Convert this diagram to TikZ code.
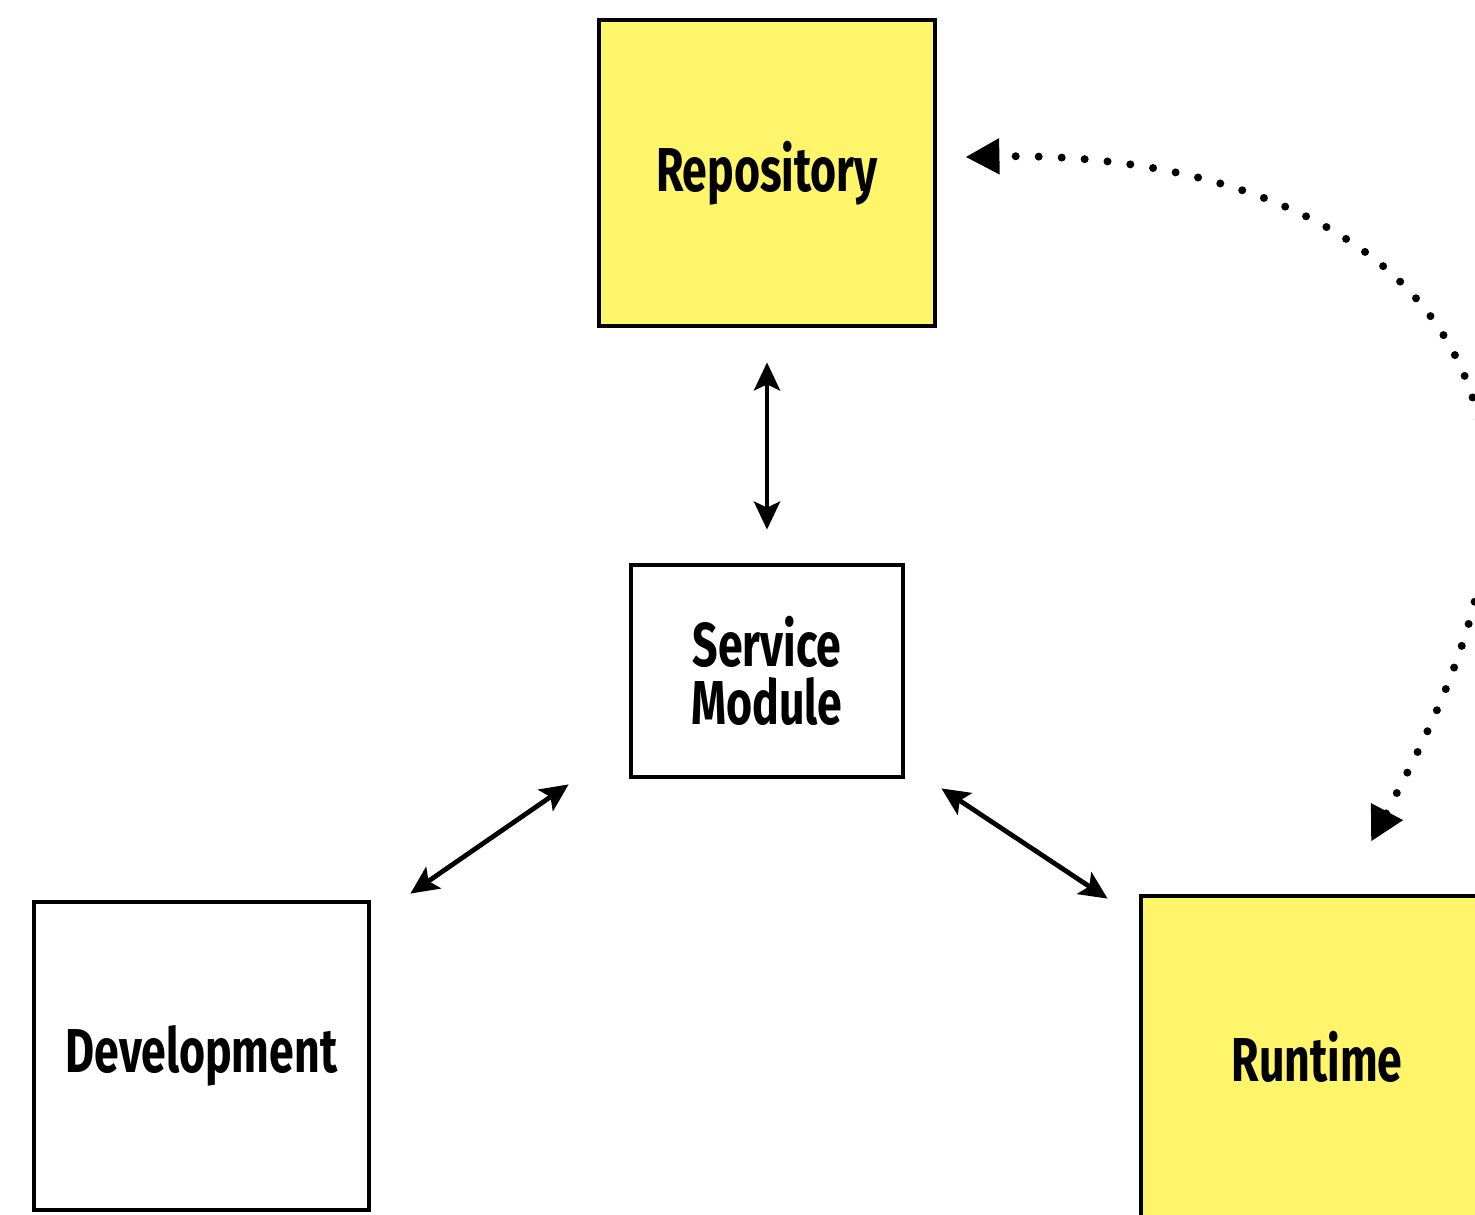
\documentclass[tikz,border=0pt]{standalone}
\usepackage{fontspec}
\setmainfont{Fira Sans}[FakeStretch=0.72]
\usetikzlibrary{arrows.meta,calc}

\definecolor{notepad}{RGB}{255,245,106}

\begin{document}
\begin{tikzpicture}[
    x=0.5pt, y=-0.5pt,
    font=\bfseries\fontsize{31}{29}\selectfont,
    >=Stealth,
    block/.style={
        draw,
        line width=2.4pt,
        align=center,
        inner sep=0pt
    },
    bigblock/.style={
        block,
        minimum width=168pt,
        minimum height=153pt
    },
    biarrow/.style={
        {Stealth[length=14pt,width=13pt,inset=3pt]}-{Stealth[length=14pt,width=13pt,inset=3pt]},
        line width=2.4pt
    },
    dotarrow/.style={
        {Triangle[length=17pt,width=17pt]}-{Triangle[length=17pt,width=17pt]},
        line width=4pt,
        line cap=round,
        dash pattern=on 0pt off 11.5pt
    }
]

% Canvas
\useasboundingbox (0,0) rectangle (1475,1214);
\clip (0,0) rectangle (1475,1214);

% Boxes
\node[bigblock, fill=notepad] (repo) at (767,173) {Repository};

\node[block, minimum width=136pt, minimum height=106pt] (svc) at (767,671) {Service\\Module};

\node[bigblock, minimum width=167.5pt, minimum height=154pt] (dev) at (201.5,1056) {Development};

\node[bigblock, fill=notepad, minimum width=176pt, minimum height=161pt] (run) at (1317,1057) {Runtime};

% Arrow ends
\coordinate (devend) at ($(dev.north east)+(39,-6)$);
\coordinate (svcwest) at ($(svc.south west)+(-60,5)$);
\coordinate (svceast) at ($(svc.south east)+(36,9)$);
\coordinate (runend) at ($(run.north west)+(-31,5)$);
\coordinate (runtip) at ($(run.north)+(54,-52)$);
\coordinate (repotip) at ($(repo.east)+(28,-16)$);

% Solid arrows
\draw[biarrow, shorten <=17pt, shorten >=16.5pt] (repo.south) -- (svc.north);
\draw[biarrow] (devend) -- (svcwest);
\draw[biarrow] (svceast) -- (runend);

% Dotted loop
\draw[dotarrow] (runtip)
    .. controls (1425,740) and (1488,620) .. (1488,500)
    .. controls (1488,240) and (1230,152) .. (repotip);

\end{tikzpicture}
\end{document}
